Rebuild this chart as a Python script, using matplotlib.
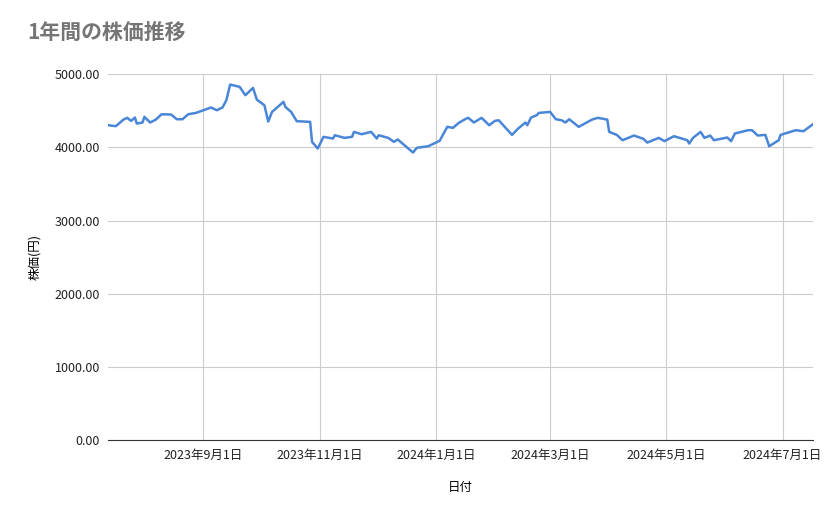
import matplotlib
matplotlib.use("Agg")
import matplotlib.pyplot as plt
import numpy as np
import pandas as pd

plt.rcParams['font.family'] = ['Noto Sans CJK JP', 'DejaVu Sans']

start_date = "2023-07-13"
day_offsets = [0,4,6,8,10,12,14,15,18,19,22,25,28,33,36,39,42,46,50,54,57,60,62,64,69,72,76,78,82,84,86,90,92,93,96,99,106,107,110,113,118,119,124,128,129,133,138,141,142,147,150,152,160,162,168,174,178,181,184,188,
               189,192,196,200,203,205,212,215,219,220,222,225,226,232,235,238,240,242,247,254,257,262,263,267,270,276,281,283,289,292,297,304,305,307,311,313,316,318,325,327,329,336,338,341,345,347,352,353,361,365,370]
prices = [4303,4290,4335,4380,4404,4362,4408,4326,4340,4417,4340,4380,4453,4449,4385,4385,4453,4471,4508,4545,4508,4545,4644,4859,4827,4713,4813,4653,4576,4353,4485,4576,4622,4553,4485,4358,4349,4076,3985,4144,4121,4166,4130,4144,4212,4180,4212,4121,4166,4130,4076,4108,3930,3994,4016,4090,4281,4267,4335,4394,
          4404,4340,4404,4303,4362,4371,4171,4253,4340,4303,4408,4440,4471,4485,4385,4371,4340,4385,4281,4380,4404,4380,4212,4171,4098,4162,4117,4066,4130,4085,4153,4098,4053,4130,4212,4130,4162,4098,4135,4085,4190,4235,4235,4162,4171,4016,4098,4171,4235,4221,4317]
tick_dates = ["2023-09-01","2023-11-01","2024-01-01","2024-03-01","2024-05-01","2024-07-01"]
tick_labels = ["2023年9月1日","2023年11月1日","2024年1月1日","2024年3月1日","2024年5月1日","2024年7月1日"]
y_ticks = [0,1000,2000,3000,4000,5000]

dates = pd.Timestamp(start_date) + pd.to_timedelta(day_offsets, unit="D")

fig = plt.figure(figsize=(8.39,5.19), dpi=100)
ax = fig.add_axes([0.129,0.152,0.840,0.705])
ax.plot(dates, prices, color="#4a86d8", lw=1.8)
ax.set_xlim(dates[0], dates[-1])
ax.set_ylim(0,5000)
ax.set_yticks(y_ticks)
ax.set_yticklabels([f"{v:.2f}" for v in y_ticks])
ax.set_xticks(pd.to_datetime(tick_dates))
ax.set_xticklabels(tick_labels)
ax.grid(True, color="#cccccc", lw=0.8)
ax.tick_params(length=0, labelsize=9, colors="#222222", pad=6)
for s in ["top","right","left"]:
    ax.spines[s].set_visible(False)
ax.spines["bottom"].set_color("#333333")
ax.set_xlabel("日付", fontsize=9, labelpad=14)
ax.set_ylabel("株価(円)", fontsize=9, labelpad=10)
fig.text(0.033, 0.925, "1年間の株価推移", fontsize=15, color="#757575", fontweight="bold")
fig.savefig("out.png", dpi=100)
